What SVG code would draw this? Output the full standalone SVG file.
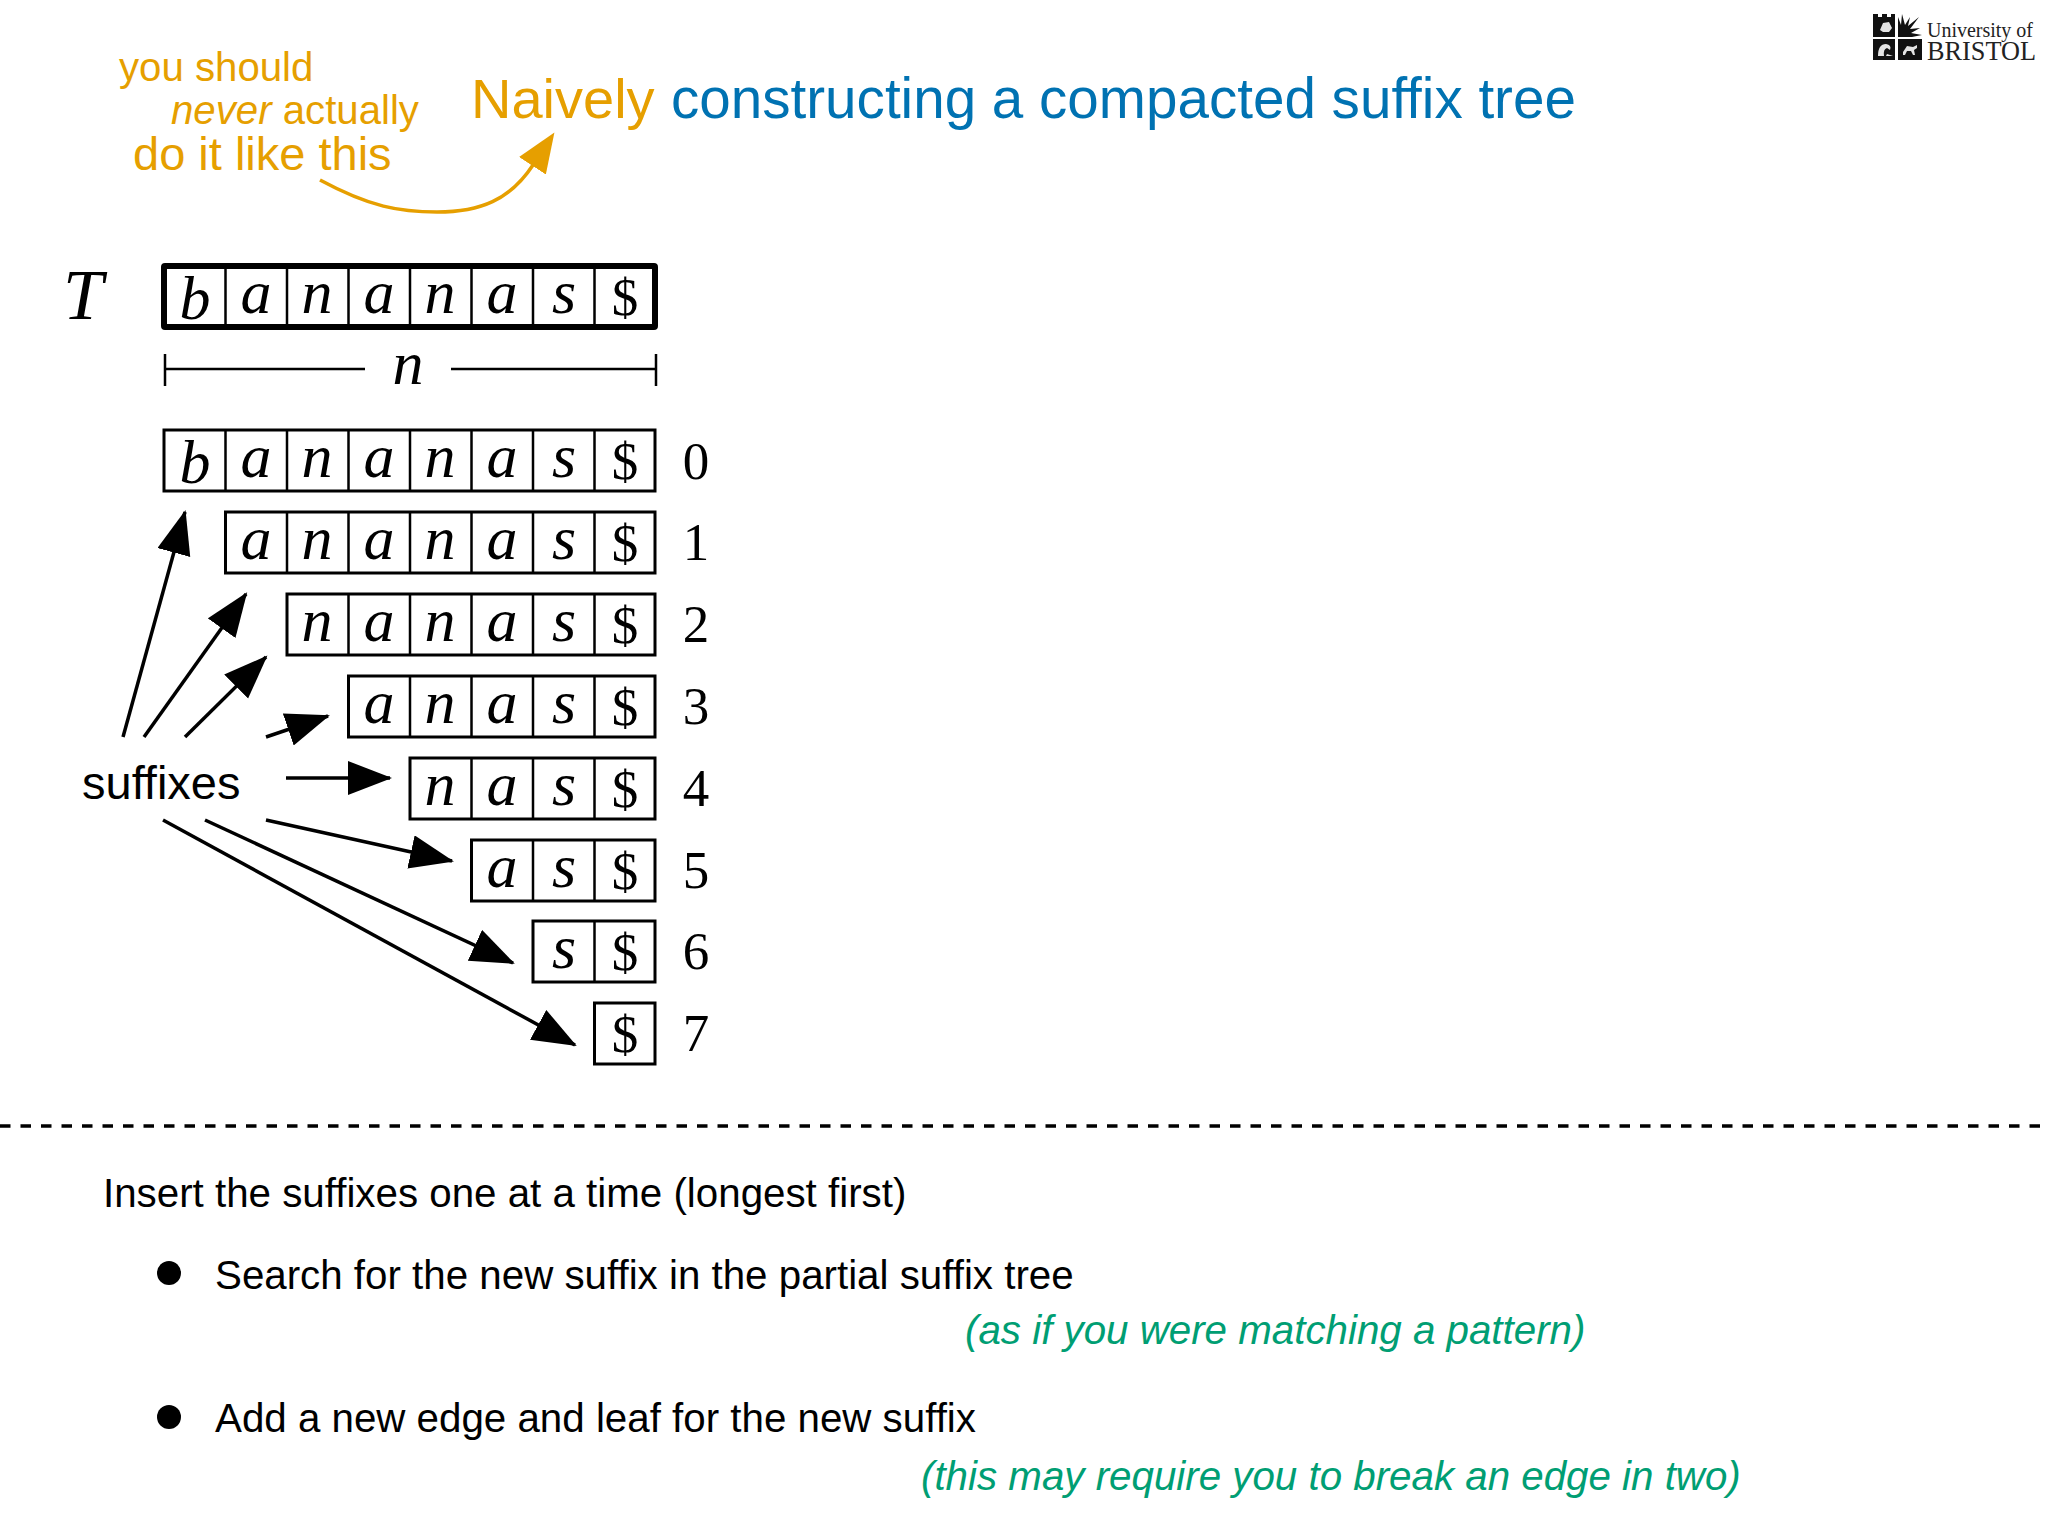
<svg xmlns="http://www.w3.org/2000/svg" width="2048" height="1536" viewBox="0 0 2048 1536">
<style>
text{font-family:"Liberation Sans",Arial,sans-serif}
.m{font-family:"Liberation Serif","Times New Roman",serif;font-style:italic;font-size:62px;text-anchor:middle;fill:#000}
.d{font-family:"Liberation Serif","Times New Roman",serif;font-size:53px;text-anchor:middle;fill:#000}
.c{fill:#fff;stroke:#000;stroke-width:3}
.s{stroke:#000;stroke-width:2.500;fill:none}
.o{fill:#E69F00}.b{fill:#0072B2}.g{fill:#009E73;font-style:italic;font-size:40.300px}.t{font-size:40.300px;fill:#000}
.a{stroke:#000;stroke-width:3.500;fill:none;marker-end:url(#h)}
</style>
<defs>
<marker id="h" markerUnits="userSpaceOnUse" markerWidth="48" markerHeight="38" refX="42" refY="17" orient="auto"><path d="M0,0L44,17L0,34Z" fill="#000"/></marker>
<marker id="ho" markerUnits="userSpaceOnUse" markerWidth="46" markerHeight="36" refX="1" refY="16" orient="auto"><path d="M0,0L40,16L0,32Z" fill="#E69F00"/></marker>
</defs>
<g id="title"><text x="471" y="118" font-size="56" class="o">Naively</text><text x="671" y="118" font-size="56.600" class="b">constructing a compacted suffix tree</text></g>
<g id="note" class="o"><text x="119" y="81" font-size="40.200">you should</text><text x="171" y="124" font-size="40.200"><tspan font-style="italic">never</tspan> actually</text><text x="133" y="170" font-size="47">do it like this</text></g>
<g id="logo">
<path d="M1873,14h5v3h4v-3h5v3h4v-3h4v23h-22zM1873,39h22v21h-22zM1898,39h24v21h-24z" fill="#111"/>
<path d="M1880,30l3-7 6,-1 3,6-3,4h-6zM1878,56q0-12 8-12 6,1 4,6l-3-2q-4,1-3,8zM1887,54l6,2h-7zM1903,52l4-6 6,1 4-2v3l-3,2 1,5h-2l-2-4h-4l-2,4h-2z" fill="#e4e4e4"/>
<path d="M1898,37V17l3,8 1-11 3,11 5-8-2,9 11-9-9,12 10-1-9,5 11,2-10,2h-6z" fill="#111"/>
<text x="1927" y="37" font-size="20" textLength="106" lengthAdjust="spacingAndGlyphs" style="font-family:'Liberation Serif',serif" fill="#222">University of</text>
<text x="1927" y="60" font-size="27" textLength="109" lengthAdjust="spacingAndGlyphs" style="font-family:'Liberation Serif',serif" fill="#222">BRISTOL</text>
</g>
<g id="T">
<text x="83" y="319" class="m" style="font-size:72px">T</text>
<rect x="164" y="266" width="491" height="61" rx="1" fill="#fff" stroke="#000" stroke-width="6"/>
<path class="s" d="M225.500,266V327M287,266V327M348.500,266V327M410,266V327M471.500,266V327M533,266V327M594.500,266V327"/>
<text class="m" y="319" x="195">b</text><text class="m" y="313" x="256">a</text><text class="m" y="313" x="317">n</text><text class="m" y="313" x="379">a</text><text class="m" y="313" x="440">n</text><text class="m" y="313" x="502">a</text><text class="m" y="313" x="564">s</text><text class="d" y="315" x="625">$</text>
</g>
<g id="length"><path class="s" d="M165,354V386M165,369H365M451,369H656M656,354V386"/></g>
<text x="408" y="384" class="m">n</text>
<g id="row0"><rect class="c" x="164" y="430" width="491" height="61"/><path class="s" d="M225.500,430V491M287,430V491M348.500,430V491M410,430V491M471.500,430V491M533,430V491M594.500,430V491"/>
<text class="m" y="483" x="195">b</text><text class="m" y="477" x="256">a</text><text class="m" y="477" x="317">n</text><text class="m" y="477" x="379">a</text><text class="m" y="477" x="440">n</text><text class="m" y="477" x="502">a</text><text class="m" y="477" x="564">s</text><text class="d" y="479" x="625">$</text><text class="d" y="479" x="696">0</text></g>
<g id="row1"><rect class="c" x="225.500" y="512" width="429.500" height="61"/><path class="s" d="M287,512V573M348.500,512V573M410,512V573M471.500,512V573M533,512V573M594.500,512V573"/>
<text class="m" y="559" x="256">a</text><text class="m" y="559" x="317">n</text><text class="m" y="559" x="379">a</text><text class="m" y="559" x="440">n</text><text class="m" y="559" x="502">a</text><text class="m" y="559" x="564">s</text><text class="d" y="561" x="625">$</text><text class="d" y="560" x="696">1</text></g>
<g id="row2"><rect class="c" x="287" y="594" width="368" height="61"/><path class="s" d="M348.500,594V655M410,594V655M471.500,594V655M533,594V655M594.500,594V655"/>
<text class="m" y="641" x="317">n</text><text class="m" y="641" x="379">a</text><text class="m" y="641" x="440">n</text><text class="m" y="641" x="502">a</text><text class="m" y="641" x="564">s</text><text class="d" y="643" x="625">$</text><text class="d" y="642" x="696">2</text></g>
<g id="row3"><rect class="c" x="348.500" y="676" width="306.500" height="61"/><path class="s" d="M410,676V737M471.500,676V737M533,676V737M594.500,676V737"/>
<text class="m" y="723" x="379">a</text><text class="m" y="723" x="440">n</text><text class="m" y="723" x="502">a</text><text class="m" y="723" x="564">s</text><text class="d" y="725" x="625">$</text><text class="d" y="724" x="696">3</text></g>
<g id="row4"><rect class="c" x="410" y="758" width="245" height="61"/><path class="s" d="M471.500,758V819M533,758V819M594.500,758V819"/>
<text class="m" y="805" x="440">n</text><text class="m" y="805" x="502">a</text><text class="m" y="805" x="564">s</text><text class="d" y="807" x="625">$</text><text class="d" y="806" x="696">4</text></g>
<g id="row5"><rect class="c" x="471.500" y="840" width="183.500" height="61"/><path class="s" d="M533,840V901M594.500,840V901"/>
<text class="m" y="887" x="502">a</text><text class="m" y="887" x="564">s</text><text class="d" y="889" x="625">$</text><text class="d" y="888" x="696">5</text></g>
<g id="row6"><rect class="c" x="533" y="921" width="122" height="61"/><path class="s" d="M594.500,921V982"/>
<text class="m" y="968" x="564">s</text><text class="d" y="970" x="625">$</text><text class="d" y="969" x="696">6</text></g>
<g id="row7"><rect class="c" x="594.500" y="1003" width="60.500" height="61"/><text class="d" y="1052" x="625">$</text><text class="d" y="1051" x="696">7</text></g>
<g id="suffixes"><text x="82" y="799" font-size="47" fill="#000">suffixes</text></g>
<g id="connectors">
<path d="M320,180C370,207 400,212 437,212C480,212 510,200 533,165" stroke="#E69F00" stroke-width="3.500" fill="none" marker-end="url(#ho)"/>
<path class="a" d="M123,737L185,512"/><path class="a" d="M144,737L246,594"/><path class="a" d="M185,737L266,657"/><path class="a" d="M266,737L328,716"/><path class="a" d="M286,778H390"/><path class="a" d="M266,820L452,861"/><path class="a" d="M205,820L513,963"/><path class="a" d="M163,820L575,1045"/>
</g>
<path id="divider" d="M0,1126H2048" stroke="#000" stroke-width="3.500" stroke-dasharray="10.500 10"/>
<g id="body">
<text class="t" x="103" y="1207">Insert the suffixes one at a time (longest first)</text>
<circle cx="169" cy="1273" r="12"/><text class="t" x="215" y="1289">Search for the new suffix in the partial suffix tree</text>
<text class="g" x="965" y="1344">(as if you were matching a pattern)</text>
<circle cx="169" cy="1417" r="12"/><text class="t" x="215" y="1432">Add a new edge and leaf for the new suffix</text>
<text class="g" x="921" y="1490">(this may require you to break an edge in two)</text>
</g>
</svg>
